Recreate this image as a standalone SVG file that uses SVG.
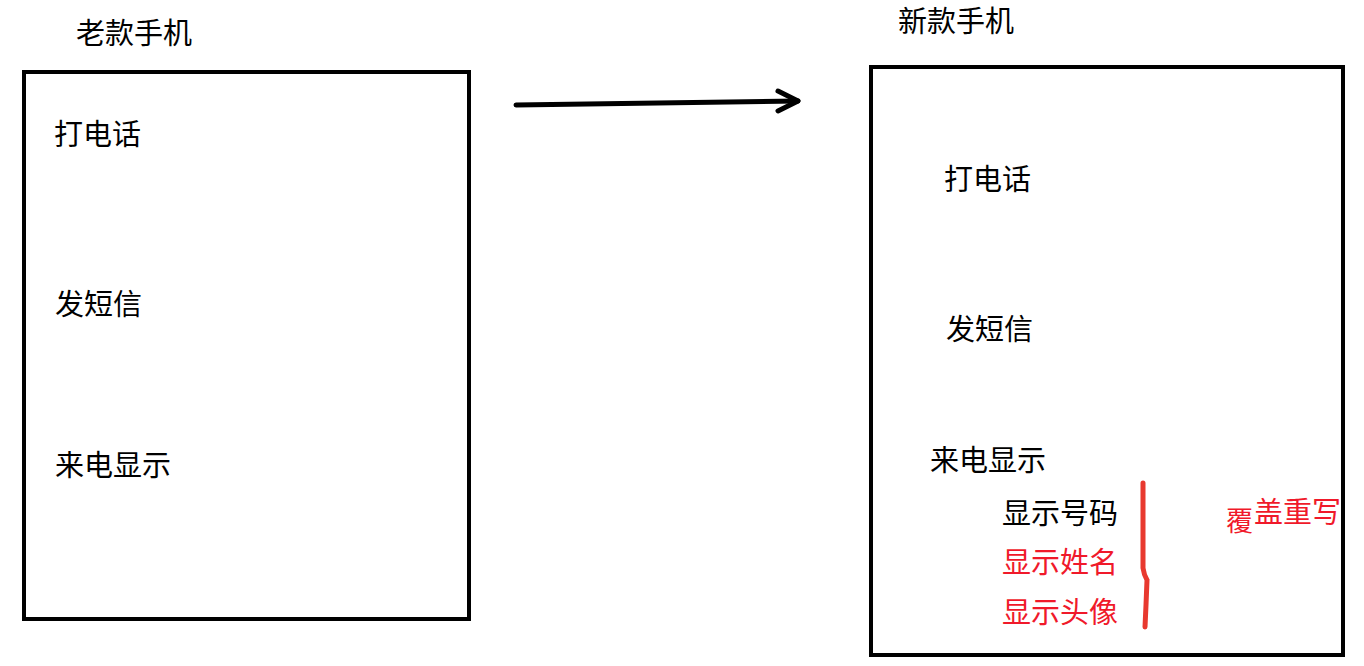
<svg xmlns="http://www.w3.org/2000/svg" width="1364" height="666" viewBox="0 0 1364 666">
<style>
text{font-family:"Noto Sans CJK SC","Noto Sans",sans-serif;font-size:29px;fill:#000}
.r{fill:#f0192a}
.box{fill:none;stroke:#000;stroke-width:4}
.ln{fill:none;stroke:#000;stroke-width:5;stroke-linecap:round;stroke-linejoin:round}
</style>
<rect width="1364" height="666" fill="#fff"/>
<g id="old-phone">
<rect class="box" x="24" y="72" width="445" height="547"/>
<text x="76" y="44">老款手机</text>
<text x="54" y="145">打电话</text>
<text x="55" y="315">发短信</text>
<text x="55" y="476">来电显示</text>
</g>
<g id="new-phone">
<rect class="box" x="871" y="67" width="472" height="588"/>
<text x="898" y="32">新款手机</text>
<text x="944" y="190">打电话</text>
<text x="946" y="340">发短信</text>
<text x="930" y="471">来电显示</text>
<text x="1002" y="524">显示号码</text>
<text class="r" x="1002" y="573">显示姓名</text>
<text class="r" x="1002" y="623">显示头像</text>
</g>
<g id="override-note">
<path d="M1143,483 L1143,568 Q1144,575 1147,580 L1146,605 L1145,627" fill="none" stroke="#e8392f" stroke-width="5" stroke-linecap="round"/>
<text class="r" x="1226" y="531" style="font-size:27px">覆</text>
<text class="r" x="1254" y="523">盖重写</text>
</g>
<g id="connectors">
<path class="ln" d="M516,105 L798,101"/>
<path class="ln" d="M778,91 L798,101 L778,111"/>
</g>
</svg>
